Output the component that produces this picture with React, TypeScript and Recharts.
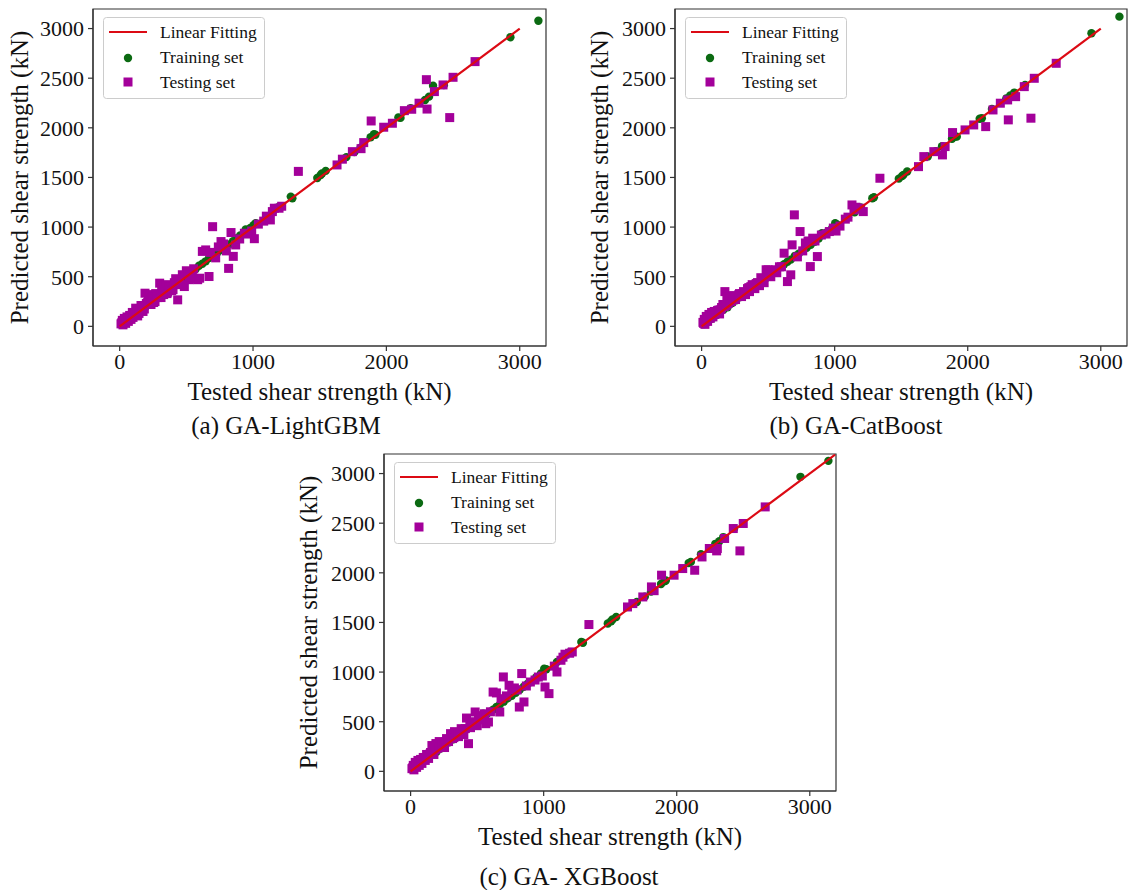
import React from 'react';
import { ScatterChart, Scatter, XAxis, YAxis, ReferenceArea, Legend } from 'recharts';

const FONT = '"Liberation Serif", "Times New Roman", serif';
const GREEN = '#0b6a12';
const MAGENTA = '#a3009a';
const RED = '#dc0a14';
const AXIS = '#333333';

// ---- data (kN) ----
const xTicks = [0, 1000, 2000, 3000];
const yTicks = [0, 500, 1000, 1500, 2000, 2500, 3000];

const trainX = [15, 30, 50, 70, 90, 115, 140, 165, 195, 230, 260, 290, 320, 350, 380, 403, 430, 460, 490, 520, 545, 570, 595, 620, 645, 670, 700, 730, 760, 790, 820, 850, 880, 904, 945, 980, 1004, 1020, 1100, 1150, 1195, 1283, 1295, 1482, 1507, 1517, 1545, 1700, 1760, 1807, 1882, 1907, 1918, 2090, 2106, 2182, 2290, 2320, 2350, 2431, 2930, 3140];

const trainPredA = [20, 28, 55, 66, 95, 110, 146, 160, 200, 226, 266, 285, 326, 345, 386, 400, 436, 468, 496, 515, 565, 578, 610, 630, 655, 687, 705, 738, 768, 795, 826, 858, 888, 915, 975, 990, 1020, 1039, 1105, 1160, 1206, 1307, 1290, 1495, 1525, 1540, 1566, 1705, 1755, 1800, 1905, 1935, 1930, 2105, 2100, 2197, 2280, 2314, 2425, 2430, 2913, 3079];
const trainPredB = [22, 35, 48, 75, 92, 120, 140, 170, 192, 235, 262, 295, 318, 355, 378, 440, 432, 465, 492, 525, 548, 575, 600, 625, 650, 672, 708, 732, 765, 792, 822, 852, 885, 939, 950, 985, 1039, 1025, 1098, 1148, 1198, 1291, 1300, 1488, 1515, 1526, 1560, 1712, 1765, 1815, 1890, 1911, 1911, 2092, 2097, 2190, 2295, 2325, 2355, 2432, 2952, 3120];
const trainPredC = [18, 32, 52, 72, 94, 118, 142, 168, 198, 232, 264, 292, 322, 352, 382, 405, 432, 462, 494, 522, 580, 575, 598, 622, 648, 672, 702, 735, 762, 792, 822, 852, 882, 900, 948, 985, 1035, 1028, 1102, 1152, 1200, 1303, 1295, 1490, 1512, 1530, 1555, 1706, 1760, 1812, 1888, 1915, 1922, 2098, 2110, 2188, 2292, 2318, 2360, 2446, 2967, 3128];

const testX = [10, 20, 25, 35, 45, 55, 65, 75, 85, 95, 110, 120, 135, 150, 160, 175, 190, 200, 215, 225, 240, 255, 270, 285, 300, 315, 330, 345, 360, 380, 400, 420, 435, 450, 470, 485, 500, 520, 545, 565, 585, 600, 620, 645, 670, 680, 697, 720, 740, 760, 780, 800, 817, 835, 852, 870, 900, 935, 960, 990, 1010, 1040, 1080, 1100, 1130, 1145, 1160, 1195, 1215, 1340, 1630, 1670, 1745, 1810, 1830, 1886, 1980, 2045, 2135, 2190, 2245, 2300, 2305, 2360, 2425, 2475, 2500, 2665,
  15, 30, 40, 60, 80, 100, 130, 145, 170, 185, 210, 235, 250, 265, 280, 310, 325, 355, 370, 390, 410, 445, 460, 510, 530, 555];

const testPredA = [25, 60, 15, 80, 30, 95, 50, 110, 70, 140, 120, 183, 105, 175, 210, 150, 334, 230, 320, 267, 300, 240, 330, 290, 435, 380, 320, 420, 345, 400, 370, 480, 267, 430, 520, 401, 560, 470, 520, 480, 470, 485, 755, 770, 502, 745, 1004, 690, 800, 854, 830, 760, 584, 945, 705, 820, 880, 938, 930, 960, 883, 1030, 1060, 1110, 1072, 1156, 1190, 1190, 1210, 1561, 1626, 1684, 1760, 1790, 1851, 2069, 2006, 2046, 2173, 2187, 2248, 2485, 2189, 2365, 2432, 2103, 2509, 2667,
  35, 45, 60, 75, 100, 90, 150, 130, 200, 175, 240, 220, 300, 250, 310, 290, 370, 330, 400, 360, 440, 470, 420, 540, 500, 580];
const testPredB = [40, 70, 20, 100, 50, 120, 80, 140, 95, 150, 130, 160, 125, 190, 220, 350, 300, 230, 280, 250, 310, 270, 300, 330, 300, 350, 320, 380, 350, 420, 380, 440, 410, 480, 440, 570, 569, 500, 560, 540, 600, 600, 737, 451, 519, 821, 1123, 700, 955, 760, 840, 860, 602, 888, 860, 703, 920, 930, 955, 990, 960, 1010, 1080, 1100, 1223, 1173, 1200, 1190, 1156, 1492, 1609, 1710, 1760, 1727, 1811, 1952, 1979, 2029, 2012, 2180, 2248, 2281, 2080, 2314, 2415, 2097, 2499, 2650,
  30, 55, 70, 90, 110, 120, 165, 170, 200, 210, 250, 270, 290, 300, 320, 330, 340, 390, 400, 410, 430, 490, 470, 540, 560, 570];
const testPredC = [27, 60, 15, 90, 40, 110, 60, 120, 80, 140, 110, 170, 130, 190, 260, 170, 280, 230, 300, 250, 290, 240, 330, 300, 380, 330, 400, 360, 350, 430, 370, 537, 279, 440, 500, 598, 460, 520, 560, 480, 497, 600, 799, 790, 598, 732, 951, 760, 867, 820, 840, 820, 648, 985, 699, 860, 900, 920, 950, 960, 850, 783, 1060, 1001, 1119, 1150, 1180, 1190, 1203, 1479, 1656, 1690, 1757, 1858, 1820, 1976, 1976, 2043, 2026, 2160, 2245, 2221, 2245, 2346, 2446, 2221, 2497, 2664,
  35, 50, 65, 85, 95, 130, 150, 175, 210, 220, 250, 280, 270, 300, 310, 350, 340, 390, 380, 420, 430, 470, 480, 540, 520, 580];

const fitXAB = [0, 3000];
const fitYAB = [0, 3000];
const fitXC = [0, 3190];
const fitYC = [0, 3190];

const X_DOMAIN = [-200, 3197];
const Y_DOMAIN = [-198, 3197];

const toPoints = (xs: number[], ys: number[]) => xs.map((x, i) => ({ x, y: ys[i] }));

const CircleShape = (props: any) =>
  props.cx == null ? <g /> : <circle cx={props.cx} cy={props.cy} r={4.2} fill={GREEN} />;
const SquareShape = (props: any) =>
  props.cx == null ? <g /> : <rect x={props.cx - 4.5} y={props.cy - 4.5} width={9} height={9} fill={MAGENTA} />;
const NoShape = () => <g />;

const LegendBox = () => (
  <svg width={163} height={83} style={{ display: 'block' }}>
    <rect x={0.5} y={0.5} width={161} height={81} rx={3} fill="#ffffff" fillOpacity={0.85} stroke="#cccccc" strokeWidth={1} />
    <line x1={6} x2={44} y1={15} y2={15} stroke={RED} strokeWidth={2.2} />
    <circle cx={25} cy={41} r={4.2} fill={GREEN} />
    <rect x={20.5} y={60.5} width={9} height={9} fill={MAGENTA} />
    <text x={57} y={20.5} fontFamily={FONT} fontSize={17.5} fill="#111">Linear Fitting</text>
    <text x={57} y={46} fontFamily={FONT} fontSize={17.5} fill="#111">Training set</text>
    <text x={57} y={70.5} fontFamily={FONT} fontSize={17.5} fill="#111">Testing set</text>
  </svg>
);

type PanelProps = {
  left: number;
  top: number;
  width: number;
  height: number;
  yAxisWidth: number;
  margin: { top: number; right: number; bottom: number; left: number };
  trainY: number[];
  testY: number[];
  fitX: number[];
  fitY: number[];
  legendLeft: number;
  legendTop: number;
  yLabelOffset: number;
};

const tickStyle = { fontSize: 22, fill: '#111', fontFamily: FONT };
const labelStyle = { fontSize: 25, fill: '#111', fontFamily: FONT };

const Panel = (p: PanelProps) => {
  const train = toPoints(trainX, p.trainY);
  const test = toPoints(testX, p.testY);
  const fit = toPoints(p.fitX, p.fitY);
  return (
    <div style={{ position: 'absolute', left: p.left, top: p.top, width: p.width, height: p.height }}>
      <ScatterChart width={p.width} height={p.height} margin={p.margin}>
        <XAxis
          type="number"
          dataKey="x"
          domain={X_DOMAIN}
          ticks={xTicks}
          allowDataOverflow
          height={36}
          tick={tickStyle}
          tickSize={5}
          tickMargin={2}
          axisLine={{ stroke: AXIS, strokeWidth: 1.2 }}
          tickLine={{ stroke: AXIS, strokeWidth: 1.2 }}
          label={{ value: 'Tested shear strength (kN)', position: 'bottom', offset: 0, style: labelStyle }}
        />
        <YAxis
          type="number"
          dataKey="y"
          domain={Y_DOMAIN}
          ticks={yTicks}
          allowDataOverflow
          width={p.yAxisWidth}
          tick={tickStyle}
          tickSize={5}
          tickMargin={4}
          axisLine={{ stroke: AXIS, strokeWidth: 1.2 }}
          tickLine={{ stroke: AXIS, strokeWidth: 1.2 }}
          label={{
            value: 'Predicted shear strength (kN)',
            angle: -90,
            position: 'insideLeft',
            offset: p.yLabelOffset,
            style: { ...labelStyle, textAnchor: 'middle' },
          }}
        />
        <ReferenceArea
          x1={X_DOMAIN[0]}
          x2={X_DOMAIN[1]}
          y1={Y_DOMAIN[0]}
          y2={Y_DOMAIN[1]}
          fill="none"
          fillOpacity={0}
          stroke={AXIS}
          strokeWidth={1.2}
        />
        <Scatter name="Training set" data={train} shape={CircleShape} isAnimationActive={false} />
        <Scatter name="Testing set" data={test} shape={SquareShape} isAnimationActive={false} />
        <Scatter
          name="Linear Fitting"
          data={fit}
          shape={NoShape}
          line={{ stroke: RED, strokeWidth: 2.2 }}
          lineType="joint"
          isAnimationActive={false}
        />
        <Legend
          layout="vertical"
          align="center"
          verticalAlign="middle"
          content={() => <LegendBox />}
          wrapperStyle={{ left: p.legendLeft, top: p.legendTop, width: 'auto', height: 'auto' }}
        />
      </ScatterChart>
    </div>
  );
};

const captionStyle = (left: number, top: number, width: number): React.CSSProperties => ({
  position: 'absolute',
  left,
  top,
  width,
  textAlign: 'center',
  fontFamily: FONT,
  fontSize: 25,
  lineHeight: '25px',
  color: '#111',
  whiteSpace: 'nowrap',
});

export default function App() {
  return (
    <div style={{ position: 'absolute', left: 0, top: 0, width: 1128, height: 890, background: '#ffffff', overflow: 'hidden' }}>
      <Panel
        left={0}
        top={0}
        width={560}
        height={440}
        yAxisWidth={93}
        margin={{ top: 9, right: 14, bottom: 58, left: 0 }}
        trainY={trainPredA}
        testY={testPredA}
        fitX={fitXAB}
        fitY={fitYAB}
        legendLeft={103}
        legendTop={17}
        yLabelOffset={19}
      />
      <Panel
        left={560}
        top={0}
        width={568}
        height={440}
        yAxisWidth={115}
        margin={{ top: 9, right: 1, bottom: 58, left: 0 }}
        trainY={trainPredB}
        testY={testPredB}
        fitX={fitXAB}
        fitY={fitYAB}
        legendLeft={125}
        legendTop={17}
        yLabelOffset={39}
      />
      <Panel
        left={280}
        top={440}
        width={560}
        height={450}
        yAxisWidth={104}
        margin={{ top: 14, right: 4, bottom: 63, left: 0 }}
        trainY={trainPredC}
        testY={testPredC}
        fitX={fitXC}
        fitY={fitYC}
        legendLeft={114}
        legendTop={22}
        yLabelOffset={28}
      />
      <div style={captionStyle(186, 413, 200)}>(a) GA-LightGBM</div>
      <div style={captionStyle(756, 413, 200)}>(b) GA-CatBoost</div>
      <div style={captionStyle(469, 864, 200)}>(c) GA- XGBoost</div>
    </div>
  );
}
